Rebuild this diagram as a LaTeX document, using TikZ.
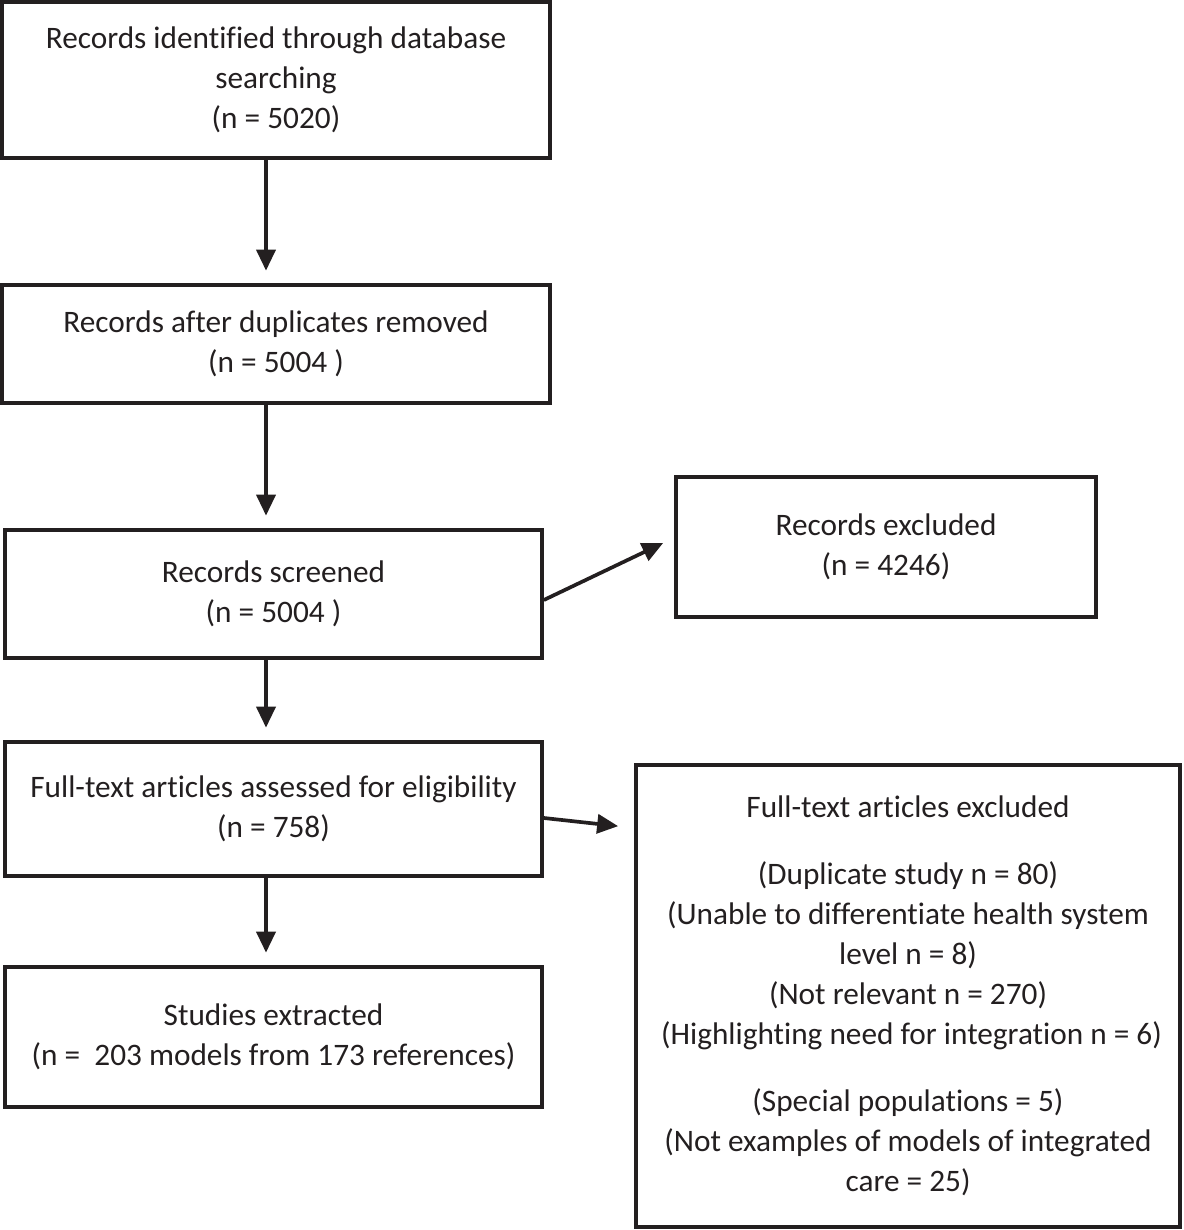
\documentclass[tikz,border=0pt]{standalone}
\usepackage{fontspec}
\setmainfont{Carlito}[Ligatures=NoCommon]
\usetikzlibrary{arrows.meta,calc}
\definecolor{LineClr}{RGB}{35,31,32}

\begin{document}
\begin{tikzpicture}[
  box/.style={draw=LineClr,line width=2.1pt,align=center,inner sep=0pt,text=LineClr,
    font=\fontsize{17.8}{22.8}\selectfont},
  arr/.style={draw=LineClr,line width=2.1pt,shorten >=0.25cm,
    -{Triangle[length=0.42cm,width=0.38cm]}}]
\useasboundingbox (0,0) rectangle (23.66,-24.6);

\coordinate (axis) at (5.32,0);

\node[box,minimum width=10.96cm,minimum height=3.12cm] (ident) at (5.52,-1.6)
  {Records identified through database\\searching\\(n = 5020)};
\node[box,minimum width=10.96cm,minimum height=2.36cm] (dupl) at (5.52,-6.88)
  {Records after duplicates removed\\(n = 5004 )};
\node[box,minimum width=10.74cm,minimum height=2.56cm] (screen) at (5.47,-11.88)
  {Records screened\\(n = 5004 )};
\node[box,minimum width=8.4cm,minimum height=2.8cm] (recexcl) at (17.72,-10.94)
  {Records excluded\\(n = 4246)};
\node[box,minimum width=10.74cm,minimum height=2.68cm] (fulltext) at (5.47,-16.18)
  {Full-text articles assessed for eligibility\\(n = 758)};
\node[box,minimum width=10.88cm,minimum height=9.24cm] (ftexcl) at (18.16,-19.92)
  {Full-text articles excluded\\[0.54cm]
   (Duplicate study n = 80)\\
   (Unable to differentiate health system\\
   level n = 8)\\
   (Not relevant n = 270)\\
   \ (Highlighting need for integration n = 6)\\[0.54cm]
   (Special populations = 5)\\
   (Not examples of models of integrated\\
   care = 25)};
\node[box,minimum width=10.74cm,minimum height=2.8cm] (extract) at (5.47,-20.74)
  {Studies extracted\\(n = \ 203 models from 173 references)};

\draw[arr] (ident.south -| axis) -- (dupl.north -| axis);
\draw[arr] (dupl.south -| axis) -- (screen.north -| axis);
\draw[arr] (screen.south -| axis) -- (fulltext.north -| axis);
\draw[arr] (fulltext.south -| axis) -- (extract.north -| axis);

\draw[arr,shorten >=0pt] ([yshift=-0.12cm]screen.east) -- ([shift={(-0.22,0.08)}]recexcl.west);
\draw[arr,shorten >=0pt] ([yshift=-0.18cm]fulltext.east) -- ([shift={(-0.32,-1.26)}]ftexcl.north west);

\end{tikzpicture}
\end{document}
